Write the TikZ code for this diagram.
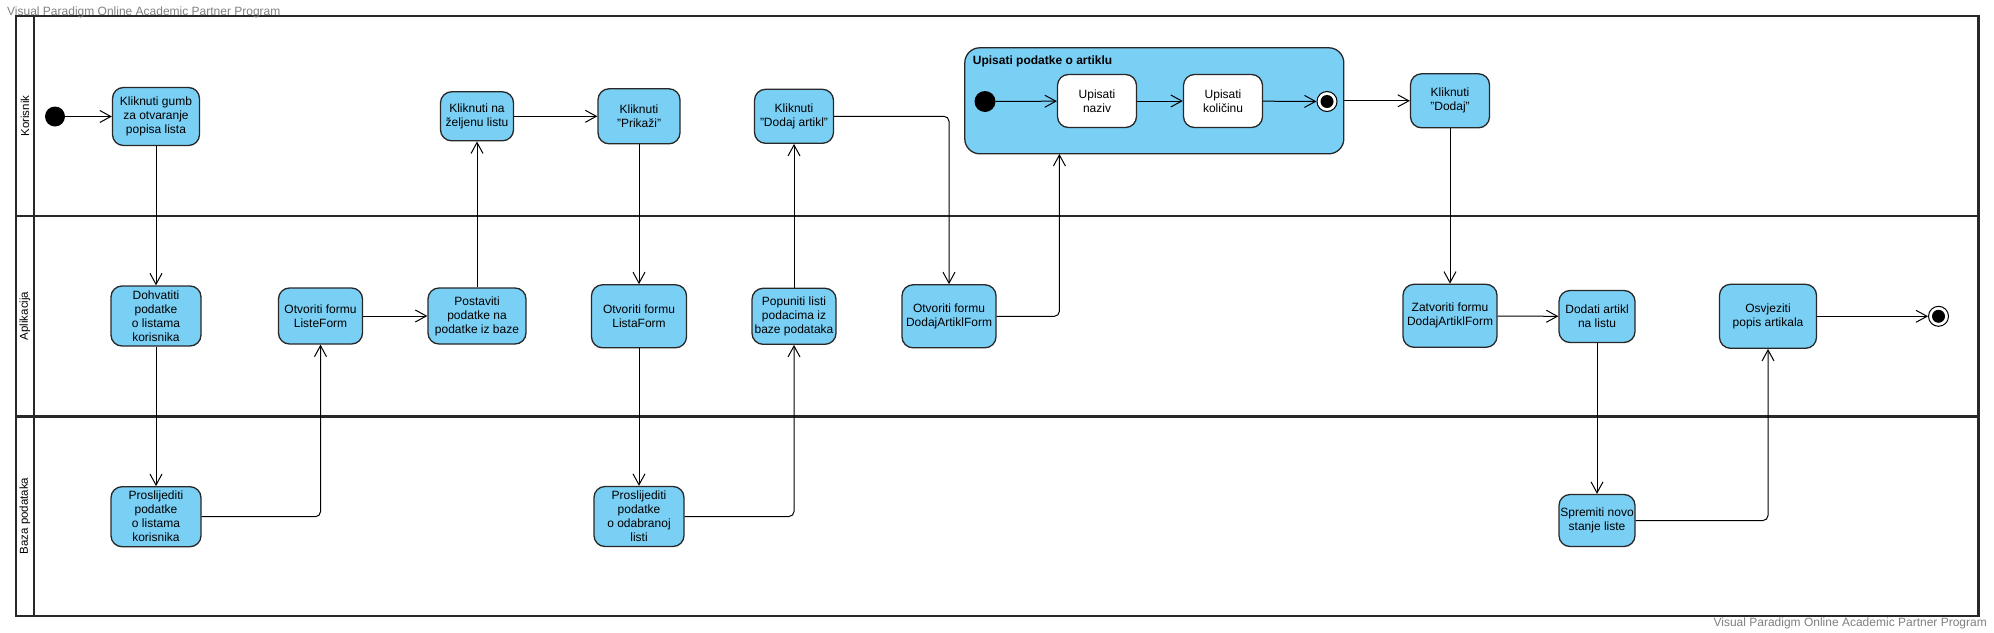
\documentclass[tikz,border=0pt]{standalone}
\usepackage{fontspec}
\setmainfont{Liberation Sans}
\usetikzlibrary{arrows.meta}
\definecolor{actfill}{RGB}{122,207,245}
\definecolor{lineclr}{RGB}{40,40,40}
\definecolor{markgray}{RGB}{128,128,128}
\tikzset{%
  action/.style    = {shape=rectangle, rounded corners=11pt,%
                      draw=lineclr, line width=1.3pt, fill=actfill,%
                      align=center, inner sep=1pt,%
                      font=\fontsize{12}{14}\selectfont},%
  subaction/.style = {action, fill=white},%
  group/.style     = {shape=rectangle, rounded corners=15pt,%
                      draw=lineclr, line width=1.3pt, fill=actfill},%
  grouptitle/.style= {inner sep=4pt, font=\fontsize{12}{14}\selectfont\bfseries},%
  startnode/.style = {circle, fill=black, inner sep=0pt, minimum size=20pt},%
  endnode/.style   = {circle, draw=black, fill=white, line width=1pt,%
                      inner sep=0pt, minimum size=20pt,%
                      path picture={\fill[black] (path picture bounding box.center) circle (6.5pt);}},%
  flow/.style      = {-{Straight Barb[length=11pt,width=12pt]}, line width=1pt,%
                      rounded corners=5pt},%
  lane/.style      = {line width=2.2pt, draw=lineclr},%
  lanelabel/.style = {rotate=90, font=\fontsize{11.5}{14}\selectfont},%
  watermark/.style = {text=markgray, inner sep=0pt, font=\fontsize{12}{14}\selectfont}%
}

\begin{document}
\begin{tikzpicture}[x=1pt, y=-1pt]
        \useasboundingbox (0,0) rectangle (1994,632);
        % swimlanes
        \draw[lane] (16,16) rectangle (1978.5,616);
        \draw[lane] (34,16) -- (34,616);
        \draw[lane] (16,216) -- (1978.5,216);
        \draw[lane] (16,416.5) -- (1978.5,416.5);
        \node[lanelabel] (korisnik) at (25,116) {Korisnik};
        \node[lanelabel] (aplikacija) at (25,316) {Aplikacija};
        \node[lanelabel] (baza) at (25,516) {Baza podataka};
        \node[watermark, anchor=base west] (wmtop) at (7,15.5) {Visual Paradigm Online Academic Partner Program};
        \node[watermark, anchor=base east] (wmbottom) at (1987,626) {Visual Paradigm Online Academic Partner Program};

        % actions
        \node[startnode] (init) at (55,116.5) {};
        \node[action, minimum width=87pt, minimum height=58pt] (gumb) at (156,116.5) {Kliknuti gumb\\za otvaranje\\popisa lista};
        \node[action, minimum width=90pt, minimum height=60pt] (dohvatiti) at (156,316) {Dohvatiti\\podatke\\o listama\\korisnika};
        \node[action, minimum width=90pt, minimum height=60pt] (proslijeditiA) at (156,516.7) {Proslijediti\\podatke\\o listama\\korisnika};
        \node[action, minimum width=84pt, minimum height=56pt] (listeform) at (320.5,316) {Otvoriti formu\\ListeForm};
        \node[action, minimum width=98pt, minimum height=56pt] (postaviti) at (477,316) {Postaviti\\podatke na\\podatke iz baze};
        \node[action, minimum width=73pt, minimum height=49pt] (zeljenu) at (477,116.3) {Kliknuti na\\željenu listu};
        \node[action, minimum width=82pt, minimum height=55pt] (prikazi) at (639,116.3) {Kliknuti\\"Prikaži"};
        \node[action, minimum width=95pt, minimum height=63pt] (listaform) at (639,316.3) {Otvoriti formu\\ListaForm};
        \node[action, minimum width=90pt, minimum height=60pt] (proslijeditiB) at (639,516.5) {Proslijediti\\podatke\\o odabranoj\\listi};
        \node[action, minimum width=84pt, minimum height=56pt] (popuniti) at (794,316.3) {Popuniti listi\\podacima iz\\baze podataka};
        \node[action, minimum width=79pt, minimum height=54pt] (dodajartikl) at (794,116.3) {Kliknuti\\"Dodaj artikl"};
        \node[action, minimum width=94pt, minimum height=63pt] (dodajform) at (949,316.3) {Otvoriti formu\\DodajArtiklForm};

        \node[group, minimum width=379pt, minimum height=106pt] (upisati) at (1154.3,100.8) {};
        \node[grouptitle, anchor=west] (upisatititle) at (968.7,61.7) {Upisati podatke o artiklu};
        \node[startnode, minimum size=21pt] (subinit) at (985,101.5) {};
        \node[subaction, minimum width=79pt, minimum height=53pt] (naziv) at (1097,101) {Upisati\\naziv};
        \node[subaction, minimum width=79pt, minimum height=53pt] (kolicinu) at (1223,101) {Upisati\\količinu};
        \node[endnode] (subfinal) at (1327,101.5) {};
        \coordinate (upisatiin) at (1059.4,154);

        \node[action, minimum width=79pt, minimum height=54pt] (dodaj) at (1450,100.8) {Kliknuti\\"Dodaj"};
        \node[action, minimum width=94pt, minimum height=63pt] (zatvoriti) at (1450,315.8) {Zatvoriti formu\\DodajArtiklForm};
        \node[action, minimum width=76pt, minimum height=52pt] (dodati) at (1597,316.5) {Dodati artikl\\na listu};
        \node[action, minimum width=76pt, minimum height=52pt] (spremiti) at (1597,520.5) {Spremiti novo\\stanje liste};
        \node[action, minimum width=97pt, minimum height=64pt] (osvjeziti) at (1768,316.3) {Osvjeziti\\popis artikala};
        \node[endnode] (final) at (1938.5,316.3) {};

        % flows
        \draw[flow] (init) -- (gumb);
        \draw[flow] (gumb) -- (dohvatiti);
        \draw[flow] (dohvatiti) -- (proslijeditiA);
        \draw[flow] (proslijeditiA) -| (listeform);
        \draw[flow] (listeform) -- (postaviti);
        \draw[flow] (postaviti) -- (zeljenu);
        \draw[flow] (zeljenu) -- (prikazi);
        \draw[flow] (prikazi) -- (listaform);
        \draw[flow] (listaform) -- (proslijeditiB);
        \draw[flow] (proslijeditiB) -| (popuniti);
        \draw[flow] (popuniti) -- (dodajartikl);
        \draw[flow] (dodajartikl) -| (dodajform);
        \draw[flow] (dodajform) -| (upisatiin);
        \draw[flow] (subinit) -- (naziv);
        \draw[flow] (naziv) -- (kolicinu);
        \draw[flow] (kolicinu) -- (subfinal);
        \draw[flow] (upisati) -- (dodaj);
        \draw[flow] (dodaj) -- (zatvoriti);
        \draw[flow] (zatvoriti) -- (dodati);
        \draw[flow] (dodati) -- (spremiti);
        \draw[flow] (spremiti) -| (osvjeziti);
        \draw[flow] (osvjeziti) -- (final);
\end{tikzpicture}
\end{document}
